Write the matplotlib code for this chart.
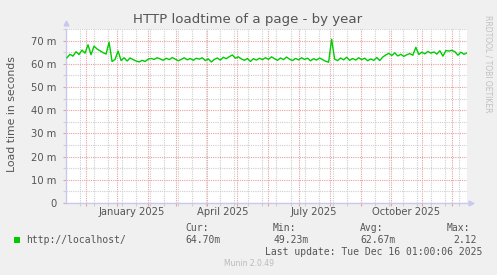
import matplotlib
matplotlib.use('Agg')
import matplotlib.pyplot as plt
import matplotlib.dates as mdates
from matplotlib.patches import Rectangle
from matplotlib.ticker import FixedLocator, NullFormatter
import numpy as np
from datetime import datetime, timedelta

W, H = 497, 275

# daily-ish samples (every 3 days), load time in milliseconds
first_day = datetime(2024, 11, 12)
step_days = 3
loadtime_ms = [
    62.6, 64.1, 63.3, 65.2, 64.0, 65.9, 64.6, 68.2, 63.9, 67.6,
    66.4, 65.6, 64.8, 64.2, 69.3, 61.0, 61.9, 65.5, 61.4, 62.6,
    61.2, 62.5, 61.8, 61.2, 60.8, 61.5, 61.0, 62.0, 62.3, 61.9,
    62.6, 62.1, 61.5, 62.4, 61.8, 62.7, 62.0, 61.3, 61.9, 62.6,
    61.7, 62.3, 61.5, 62.4, 62.0, 62.6, 61.4, 62.1, 60.8, 61.9,
    62.5, 61.6, 62.8, 62.2, 63.1, 63.8, 62.4, 63.0, 62.1, 61.5,
    62.3, 61.0, 62.2, 61.6, 62.4, 61.8, 62.6, 61.9, 63.0, 62.2,
    61.5, 62.5, 61.8, 62.9, 62.0, 61.4, 62.3, 61.7, 62.6, 61.9,
    62.4, 61.3, 62.2, 61.6, 62.5, 61.8, 61.1, 60.7, 70.6, 62.0,
    61.4, 62.5, 61.7, 62.8, 61.5, 62.3, 61.6, 62.6, 61.8, 62.4,
    61.3, 62.1, 61.5, 62.7, 61.4, 62.9, 63.8, 64.5, 63.6, 64.7,
    63.4, 64.1, 63.2, 63.9, 64.4, 63.7, 67.1, 64.0, 65.0, 64.3,
    65.3, 64.6, 65.1, 64.2, 65.6, 63.3, 65.7, 65.5, 65.8, 65.2,
    63.7, 65.0, 64.1, 64.7,
]
dates = [first_day + timedelta(days=step_days * i) for i in range(len(loadtime_ms))]

month_labels = ['January 2025', 'April 2025', 'July 2025', 'October 2025']
month_label_dates = [datetime(2025, 1, 16), datetime(2025, 4, 16),
                     datetime(2025, 7, 16), datetime(2025, 10, 16)]

series_name = 'http://localhost/'
stat_names = ['Cur:', 'Min:', 'Avg:', 'Max:']
stat_values = ['64.70m', '49.23m', '62.67m', '2.12']
last_update = 'Last update: Tue Dec 16 01:00:06 2025'

BG = '#f0f0f0'
TXT = '#555555'
GREEN = '#00cc00'
MAJ = '#e8a0a0'
MIN = '#cfcfcf'
AXC = '#c8c8f0'


def fx(px):
    return px / W


def fy(py):
    return 1 - py / H


fig = plt.figure(figsize=(W / 100, H / 100), dpi=100, facecolor=BG)
ax = fig.add_axes([fx(66), fy(203), fx(401), 174 / H])
ax.set_facecolor('white')

ax.plot(dates, loadtime_ms, color=GREEN, lw=1.0, zorder=3)

ax.set_xlim(datetime(2024, 11, 11, 1), datetime(2025, 12, 16, 1))
ax.set_ylim(0, 75)

# grid: months red, biweekly mondays grey
ax.xaxis.set_major_locator(mdates.MonthLocator())
ax.xaxis.set_major_formatter(NullFormatter())
mondays = np.arange(np.datetime64('2024-11-25'), np.datetime64('2025-12-16'),
                    np.timedelta64(14, 'D'))
ax.xaxis.set_minor_locator(FixedLocator(mdates.date2num(mondays.astype('datetime64[s]').astype(datetime))))

ax.set_yticks(range(0, 71, 10))
ax.set_yticks(range(5, 76, 10), minor=True)
ax.set_yticklabels(['0'] + ['%d m' % v for v in range(10, 71, 10)])

ax.grid(which='minor', color=MIN, linestyle=(0, (1, 1)), lw=0.8, zorder=1)
ax.grid(which='major', color=MAJ, linestyle=(0, (1, 1)), lw=0.8, zorder=2)
ax.set_axisbelow(True)

ax.tick_params(which='major', axis='x', length=2, width=0.8, color=MAJ)
ax.tick_params(which='minor', axis='x', length=2, width=0.8, color=MIN)
ax.tick_params(which='major', axis='y', length=2, width=0.8, color=MAJ,
               labelsize=7.2, labelcolor=TXT, pad=5)
ax.tick_params(which='minor', axis='y', length=2, width=0.8, color=MIN)

for s in ['top', 'right']:
    ax.spines[s].set_visible(False)
for s in ['left', 'bottom']:
    ax.spines[s].set_color(AXC)
    ax.spines[s].set_linewidth(1.0)

ax.plot([0], [1 + 6 / 174], marker='^', ms=3.5, color=AXC, transform=ax.transAxes, clip_on=False)
ax.plot([1 + 4 / 401], [0], marker='>', ms=3.5, color=AXC, transform=ax.transAxes, clip_on=False)

for lab, d in zip(month_labels, month_label_dates):
    ax.text(d, -9 / 174, lab, transform=ax.get_xaxis_transform(), ha='center', va='center',
            fontsize=7.2, color=TXT)

fig.text(fx(248), fy(20), 'HTTP loadtime of a page - by year', ha='center', va='center',
         fontsize=9.6, color=TXT)
fig.text(fx(12), fy(114), 'Load time in seconds', rotation=90, ha='center', va='center',
         fontsize=7.8, color=TXT)
fig.text(fx(488), fy(15), 'RRDTOOL / TOBI OETIKER', rotation=270, ha='center', va='top',
         fontsize=5.5, color='#c0c0c0')

mono = 'DejaVu Sans Mono'
stat_x = [185, 273, 360, 447]
for name, x in zip(stat_names, stat_x):
    fig.text(fx(x), fy(228), name, ha='left', va='center', fontsize=7, family=mono, color=TXT)
for val, x in zip(stat_values, stat_x):
    if val == stat_values[-1]:
        fig.text(fx(477), fy(240), val, ha='right', va='center', fontsize=7, family=mono, color=TXT)
    else:
        fig.text(fx(x), fy(240), val, ha='left', va='center', fontsize=7, family=mono, color=TXT)

fig.patches.append(Rectangle((fx(14), fy(242.5)), fx(6), 6 / H, transform=fig.transFigure,
                             facecolor=GREEN, edgecolor='none'))
fig.text(fx(26), fy(240), series_name, ha='left', va='center', fontsize=7, family=mono, color=TXT)
fig.text(fx(482), fy(252), last_update, ha='right', va='center', fontsize=7, family=mono, color=TXT)
fig.text(fx(249), fy(264), 'Munin 2.0.49', ha='center', va='center', fontsize=5.5, color='#bbbbbb')

fig.savefig('out.png', dpi=100, facecolor=BG)
